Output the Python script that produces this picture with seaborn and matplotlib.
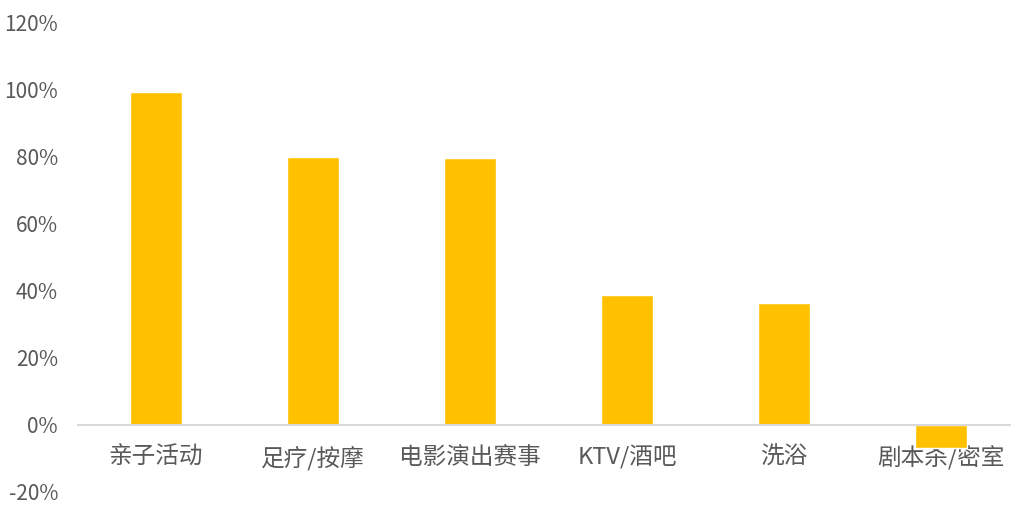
import pandas as pd
import matplotlib.pyplot as plt
import seaborn as sns
from matplotlib.ticker import FuncFormatter

categories = ['亲子活动', '足疗/按摩', '电影演出赛事', 'KTV/酒吧', '洗浴', '剧本杀/密室']
growth = [99.3, 80.0, 79.7, 38.7, 36.4, -7.0]

df = pd.DataFrame({'category': categories, 'growth': growth})

sns.set_style('white')
plt.rcParams['font.family'] = ['Noto Sans CJK SC', 'DejaVu Sans']

fig = plt.figure(figsize=(10.12, 5.05), dpi=100)
ax = fig.add_axes([0.0766, 0.026, 0.9308, 0.9287])

sns.barplot(data=df, x='category', y='growth', color='#FFC000', width=0.33,
            saturation=1, ax=ax)

ax.set_ylim(-20, 120)
ax.set_yticks(range(-20, 121, 20))
ax.yaxis.set_major_formatter(FuncFormatter(lambda v, p: f'{v:.0f}%'))
ax.set_xlabel('')
ax.set_ylabel('')

# category labels sit under the zero line, like Excel
for s in ['top', 'right', 'left']:
    ax.spines[s].set_visible(False)
ax.spines['bottom'].set_position(('data', 0))
ax.spines['bottom'].set_color('#d9d9d9')
ax.spines['bottom'].set_linewidth(1.5)

ax.tick_params(axis='x', length=0, pad=15, labelsize=17, labelcolor='#595959')
ax.tick_params(axis='y', length=0, pad=14, labelsize=15, labelcolor='#595959')

fig.savefig('out.png', dpi=100)
